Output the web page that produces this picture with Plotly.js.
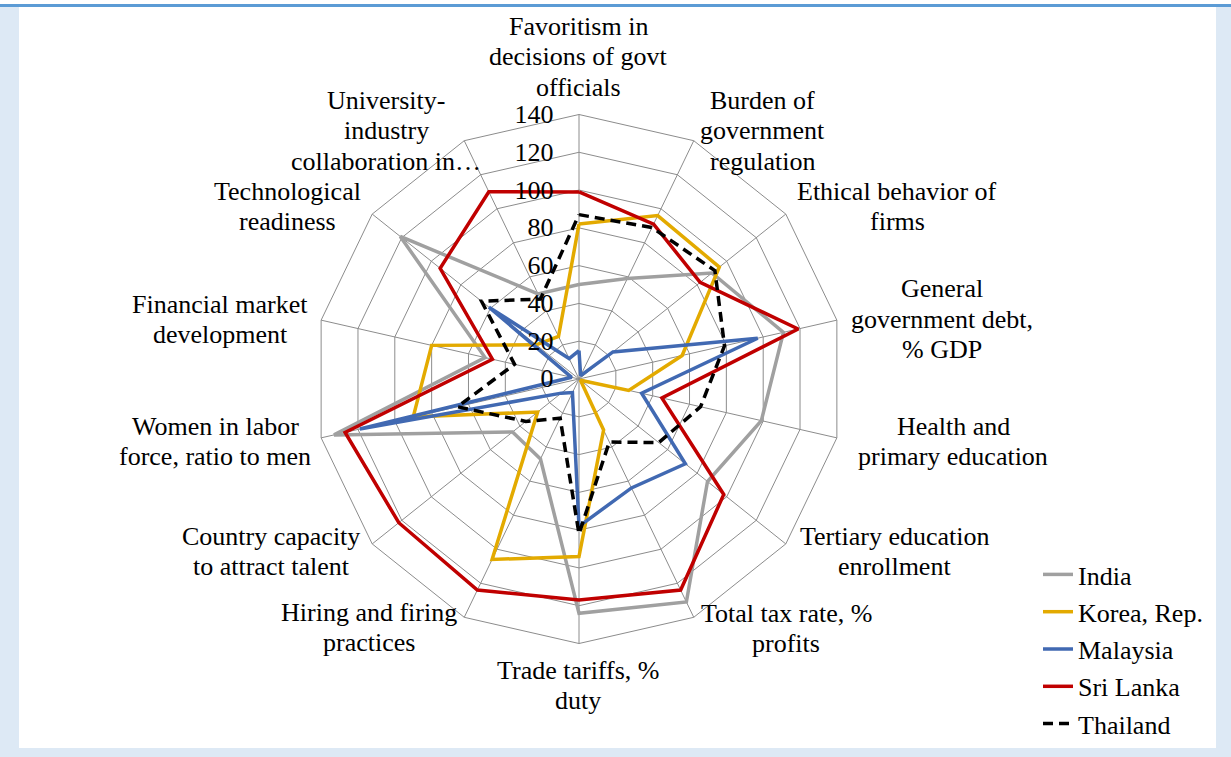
<!DOCTYPE html>
<html>
<head>
<meta charset="utf-8">
<script src="https://cdn.plot.ly/plotly-3.0.1.min.js"></script>
<style>
  html, body { margin: 0; padding: 0; background: #ffffff; }
  #chart { width: 1231px; height: 757px; }
</style>
</head>
<body>
<div id="chart"></div>
<script>
// Categories (clockwise from top)
const categories = [
  "Favoritism in<br>decisions of govt<br>officials",
  "Burden of<br>government<br>regulation",
  "Ethical behavior of<br>firms",
  "General<br>government debt,<br>% GDP",
  "Health and<br>primary education",
  "Tertiary education<br>enrollment",
  "Total tax rate, %<br>profits",
  "Trade tariffs, %<br>duty",
  "Hiring and firing<br>practices",
  "Country capacity<br>to attract talent",
  "Women in labor<br>force, ratio to men",
  "Financial market<br>development",
  "Technological<br>readiness",
  "University-<br>industry<br>collaboration in…"
];

const seriesNames = ["India", "Korea, Rep.", "Malaysia", "Sri Lanka", "Thailand"];

const india    = [50, 59, 90, 111, 99, 87, 131, 124, 47, 45, 133, 51, 121, 50];
const korea    = [82, 96, 95, 56, 27, 1, 30, 94, 106, 28, 90, 80, 29, 25];
const malaysia = [15, 2, 23, 97, 34, 72, 64, 78, 8, 12, 119, 4, 61, 12];
const sriLanka = [99, 91, 82, 119, 45, 98, 124, 117, 124, 122, 127, 47, 94, 110];
const thailand = [87, 89, 92, 79, 66, 54, 37, 82, 23, 36, 66, 35, 66, 47];

const radialTicks = [0, 20, 40, 60, 80, 100, 120, 140];

// styling (not data)
const W = 1231, H = 757;
const colors = ["#a0a0a0", "#e3aa00", "#4169b2", "#c00000", "#000000"];
const dashes = ["solid", "solid", "solid", "solid", "10px,6px"];
const seriesValues = [india, korea, malaysia, sriLanka, thailand];

// label block centres in pixels
const labelPos = [
  [578, 57], [762, 131], [897, 206.5], [942, 319], [953, 441.5], [894, 551.5], [786, 628.5],
  [578, 685.5], [369, 627.5], [271, 551.5], [215, 441.5], [220, 319.5], [287, 206.5], [386, 131]
];
const LINE_GAP = 30.5;

const FONT = '"Liberation Serif", "Times New Roman", Times, serif';

const traces = seriesNames.map((name, i) => ({
  type: "scatterpolar",
  mode: "lines",
  name: name,
  r: seriesValues[i].concat([seriesValues[i][0]]),
  theta: categories.concat([categories[0]]),
  line: { color: colors[i], width: 3.5, dash: dashes[i] },
  legendgroup: "g" + i,
  hoverinfo: "skip"
}));

const cx = 579, cy = 379, R = 264.5;

const annotations = [];
categories.forEach((c, i) => {
  const lines = c.split("<br>");
  const n = lines.length;
  lines.forEach((ln, j) => {
    const py = labelPos[i][1] + (j - (n - 1) / 2) * LINE_GAP;
    annotations.push({
      text: ln, xref: "paper", yref: "paper",
      x: labelPos[i][0] / W, y: 1 - py / H,
      xanchor: "center", yanchor: "middle", align: "center", showarrow: false,
      font: { family: FONT, size: 26, color: "#000" }
    });
  });
});

const layout = {
  width: W, height: H,
  margin: { l: 0, r: 0, t: 0, b: 0 },
  paper_bgcolor: "#dde9f5",
  plot_bgcolor: "rgba(0,0,0,0)",
  font: { family: FONT, size: 26, color: "#000" },
  showlegend: true,
  legend: {
    x: 1038 / W, y: 1 - 551 / H, xanchor: "left", yanchor: "top",
    bgcolor: "rgba(0,0,0,0)",
    font: { family: FONT, size: 26, color: "#000" },
    traceorder: "grouped", tracegroupgap: 0.5
  },
  shapes: [
    { type: "rect", xref: "paper", yref: "paper", x0: 19 / W, x1: 1216 / W, y0: 1 - 748 / H, y1: 1 - 7 / H,
      fillcolor: "#ffffff", line: { width: 0 }, layer: "below" },
    { type: "rect", xref: "paper", yref: "paper", x0: 0, x1: 1, y0: 1 - 7 / H, y1: 1,
      fillcolor: "#ffffff", line: { width: 0 }, layer: "below" },
    { type: "rect", xref: "paper", yref: "paper", x0: 0, x1: 1, y0: 1 - 7 / H, y1: 1 - 4 / H,
      fillcolor: "#5b9bd5", line: { width: 0 }, layer: "below" }
  ],
  polar: {
    domain: { x: [(cx - R) / W, (cx + R) / W], y: [1 - (cy + R) / H, 1 - (cy - R) / H] },
    bgcolor: "rgba(0,0,0,0)",
    gridshape: "linear",
    radialaxis: {
      range: [0, 140], tickvals: radialTicks, ticktext: radialTicks.map(String),
      angle: 90, tickangle: 90,
      showline: false, ticks: "outside", ticklen: 16, tickcolor: "rgba(0,0,0,0)",
      gridcolor: "#8c8c8c", gridwidth: 1,
      tickfont: { family: FONT, size: 26, color: "#000" },
      side: "counterclockwise"
    },
    angularaxis: {
      type: "category", categoryarray: categories,
      rotation: 90, direction: "clockwise",
      showticklabels: false, ticks: "",
      showline: true, linecolor: "#8c8c8c", linewidth: 1,
      gridcolor: "#8c8c8c", gridwidth: 1
    }
  },
  annotations: annotations
};

Plotly.newPlot("chart", traces, layout, { displayModeBar: false, staticPlot: true });
</script>
</body>
</html>
